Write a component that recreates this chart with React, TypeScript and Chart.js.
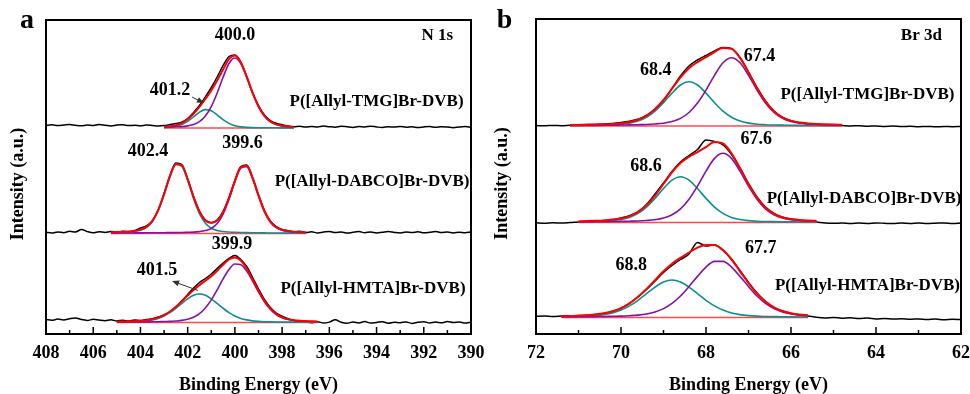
import React, { useEffect, useRef } from "react";
import { Chart, registerables } from "chart.js";

Chart.register(...registerables);

const FONT = '"Liberation Serif", "Times New Roman", serif';

// ---------------- N 1s spectra ----------------
const n1sRange = [408, 390];
const n1sStep = 0.25;
const n1sTicks = [408, 406, 404, 402, 400, 398, 396, 394, 392, 390];
const n1sOffsets = [206, 100.5, 11.5]; // stacking: TMG, DABCO, HMTA
const n1sFitStart = [403.0, 405.25, 405.0];

const n1sRawTMG = [
  2.6, 3.2, 2.4, 2.9, 3.5, 2.7, 2.2, 3.0, 2.5, 3.4, 2.8, 2.1, 2.9, 3.3, 2.4, 2.8, 2.2, 2.9, 2.5, 2.0,
  2.4, 3.4, 4.5, 5.8, 9.5, 15.5, 22.5, 31, 40.5, 51, 62.5, 71.5, 73, 66, 51.5, 35, 22.5, 13, 7.5, 4.8, 3.2, 2.0, 1.2,
  1.8, 0.9, 1.6, 1.1, 2.0, 1.3, 0.8, 1.7, 1.2, 0.6, 1.5, 1.0, 1.8, 1.1, 0.5, 1.3, 0.9, 1.6, 0.8, 1.2, 0.4, 1.1, 1.5, 0.7, 1.3, 0.9, 0.3, 1.0, 1.4, 0.8,
];
const n1sEnvTMG = [1.3, 1.8, 2.9, 4.9, 8.8, 14.2, 21, 29, 37.5, 47.5, 58.5, 68.8, 72.4, 65.6, 51.4, 35.4, 21.7, 12.2, 6.5, 3.6, 2.2, 1.5, 1.2];
const n1sLowTMG = [0.8, 1.0, 1.2, 1.4, 2.1, 3.4, 6.3, 11.9, 21.4, 35, 50.8, 64.5, 70, 64.5, 50.8, 35, 21.4, 11.9, 6.3, 3.4, 2.1, 1.4, 1.2];
const n1sHighTMG = [0.5, 0.8, 1.7, 3.5, 6.7, 11.2, 15.8, 18.4, 17.2, 13.1, 8.3, 4.6, 2.2, 1.1, 0.6, 0.4, 0.3, 0.3, 0.2, 0.2, 0.1, 0.1, 0];

const n1sRawDABCO = [
  1.2, 0.5, 1.6, 0.8, 2.2, 1.5, 4.0, 1.9, 0.7, 1.8, 1.1,
  2.0, 1.4, 2.3, 1.8, 2.9, 5.5, 7.5, 12.5, 23.5, 40, 58, 70.5, 69, 54.5, 37, 22.5, 13.5, 10.8, 13.5, 22, 36, 53, 67, 68.5, 56, 38.5, 23, 12.5, 6.8, 4.0, 2.8, 1.6, 2.2, 1.0,
  1.7, 0.6, 1.4, 2.1, 1.0, 1.6, 0.4, 1.2, 1.9, 0.8, 1.5, 0.6, 1.3, 2.0, 1.1, 0.5, 1.4, 0.9, 1.8, 0.7, 1.2, 2.0, 0.9, 1.5, 0.6, 1.3, 0.8, 1.4,
];
const n1sEnvDABCO = [1.3, 1.4, 1.7, 2.0, 2.7, 3.9, 6.6, 12.4, 23.3, 39.4, 57.4, 69.6, 68.2, 54.3, 36.4, 21.8, 13.1, 10.8, 12.9, 21.4, 35.5, 52.7, 66.3, 67.7, 55.7, 38.2, 22.5, 11.9, 6.3, 3.6, 2.4, 1.8, 1.5, 1.3];
const n1sLowDABCO = [0.4, 0.4, 0.5, 0.5, 0.6, 0.6, 0.7, 0.7, 0.8, 0.8, 0.9, 0.9, 1.0, 1.2, 1.4, 1.9, 2.9, 5.0, 9.9, 19.4, 34, 51.5, 65.3, 66.8, 54.9, 37.5, 21.9, 11.4, 5.8, 3.2, 2.0, 1.5, 1.2, 1.0];
const n1sHighDABCO = [0.9, 1.0, 1.2, 1.5, 2.1, 3.3, 5.9, 11.7, 22.5, 38.6, 56.5, 68.7, 67.2, 53.1, 35, 19.9, 10.2, 5.2, 3.0, 2.0, 1.5, 1.2, 1.0, 0.9, 0.8, 0.7, 0.6, 0.5, 0.5, 0.4, 0.4, 0.3, 0.3, 0.3];

const n1sRawHMTA = [
  3.0, 2.2, 3.4, 2.5, 3.8, 4.6, 2.9, 2.1, 3.2, 2.4, 1.8, 2.7,
  1.5, 2.3, 1.4, 2.6, 2.0, 3.1, 3.8, 5.5, 7.5, 10.5, 15.5, 21.5, 28, 34.5, 40, 44, 48.5, 54, 59.5, 64, 67, 63, 56, 45, 33.5, 23, 15, 9.5, 6.2, 3.8, 2.1, 1.2, 0.5, -0.3, 0.8,
  -0.5, 0.4, 2.8, 0.2, -0.8, 0.5, -0.4, 0.9, -0.6, 0.1, 0.8, -0.7, 0.3, -0.2, 0.6, -0.9, 0.2, 0.7, -0.5, 0.4, -0.3, 0.9, -0.1, 0.5, -0.6, 0.3,
];
const n1sEnvHMTA = [0.85, 0.9, 1.1, 1.3, 1.7, 2.2, 3.3, 4.9, 7.5, 11.0, 15.75, 21.2, 26.9, 32.5, 37.4, 41.8, 46.3, 51.8, 57.85, 63.0, 65.0, 61.9, 54.0, 43.0, 31.7, 21.6, 13.9, 8.5, 5.25, 3.4, 2.35, 1.8, 1.4, 1.25, 1.0];
const n1sLowHMTA = [0.4, 0.4, 0.5, 0.5, 0.6, 0.6, 0.7, 0.8, 1.0, 1.1, 1.5, 2.1, 3.2, 5.3, 8.9, 14.6, 22.6, 32.7, 43.6, 53.1, 58.5, 57.8, 51.4, 41.4, 30.6, 20.8, 13.3, 8.0, 4.8, 3.0, 2.0, 1.5, 1.1, 1.0, 0.8];
const n1sHighHMTA = [0.45, 0.5, 0.6, 0.8, 1.1, 1.6, 2.6, 4.1, 6.5, 9.9, 14.25, 19.1, 23.7, 27.2, 28.5, 27.2, 23.7, 19.1, 14.25, 9.9, 6.5, 4.1, 2.6, 1.6, 1.1, 0.8, 0.6, 0.5, 0.45, 0.4, 0.35, 0.3, 0.3, 0.25, 0.2];

// ---------------- Br 3d spectra ----------------
const br3dRange = [72, 62];
const br3dStep = 0.2;
const br3dTicks = [72, 70, 68, 66, 64, 62];
const br3dOffsets = [208, 111.5, 16.5];
const br3dFitStart = [71.2, 71.0, 71.4];

const br3dRawTMG = [
  0.4, 0.2, 0.6, 0.3, 0.8, 1.0, 1.4, 1.6, 2.0, 2.6,
  3.5, 4.8, 6.8, 10.5, 16.5, 25.5, 37.5, 50, 60, 66,
  70.5, 75, 78.5, 77.5, 68.5, 54, 38.5, 25, 15, 8.8,
  5.3, 3.2, 2.1, 1.5, 1.0, 0.7, 0.4, 0.1, 0.3, -0.2,
  0.0, -0.4, -0.1, -0.6, -0.3, -0.7, -0.4, -0.8, -0.5, -0.7, -0.5,
];
const br3dEnvTMG = [0.95, 1.1, 1.25, 1.45, 1.75, 2.1, 2.8, 4.0, 6.3, 10.3, 16.9, 26.1, 37.3, 48.6, 57.8, 63.9, 68.8, 74.0, 78.1, 77.1, 68.2, 53.6, 37.7, 24.2, 14.5, 8.45, 5.1, 3.4, 2.55, 2.0, 1.7, 1.45, 1.3];
const br3dLowTMG = [0.4, 0.5, 0.55, 0.6, 0.75, 0.8, 1.0, 1.1, 1.3, 1.5, 2.0, 2.8, 4.4, 7.6, 13.5, 22.9, 35.9, 50.7, 63.2, 68.3, 63.2, 50.7, 35.9, 22.9, 13.5, 7.6, 4.4, 2.8, 2.0, 1.5, 1.3, 1.1, 1.0];
const br3dHighTMG = [0.55, 0.6, 0.7, 0.85, 1.0, 1.3, 1.8, 2.9, 5.0, 8.8, 14.9, 23.3, 32.9, 41.0, 44.3, 41.0, 32.9, 23.3, 14.9, 8.8, 5.0, 2.9, 1.8, 1.3, 1.0, 0.85, 0.7, 0.6, 0.55, 0.5, 0.4, 0.35, 0.3];

const br3dRawDABCO = [
  -0.3, -0.8, -0.2, -0.6, -0.1, 0.6, 1.1, 1.5, 2.0, 2.8,
  4.5, 6.8, 10.5, 18, 28.5, 39.5, 51, 60.5, 67, 73,
  82.5, 81, 77.5, 68, 54.5, 39, 25.5, 15.5, 9.2, 5.3,
  3.2, 2.0, 1.2, 0.5, -0.4, -0.8, -0.5, -1.0, -0.6, -0.9,
  -0.4, -0.8, -1.1, -0.6, -0.9, -0.5, -1.0, -0.7, -0.4, -0.9, -0.6,
];
const br3dEnvDABCO = [1.3, 1.5, 1.75, 2.1, 2.9, 4.1, 6.4, 10.6, 17.4, 26.9, 38.5, 50.2, 59.5, 65.7, 70.4, 75.4, 80.5, 79.0, 69.2, 54.3, 38.3, 24.6, 14.7, 8.7, 5.2, 3.4, 2.55, 2.0, 1.7];
const br3dLowDABCO = [0.55, 0.6, 0.75, 0.8, 1.0, 1.1, 1.3, 1.5, 2.0, 2.8, 4.5, 7.8, 13.7, 23.3, 36.4, 51.3, 64.1, 69.2, 64.1, 51.3, 36.4, 23.3, 13.7, 7.8, 4.5, 2.8, 2.0, 1.5, 1.3];
const br3dHighDABCO = [0.73, 0.87, 1.0, 1.3, 1.9, 3.0, 5.1, 9.1, 15.4, 24.1, 34.0, 42.4, 45.8, 42.4, 34.0, 24.1, 15.4, 9.1, 5.1, 3.0, 1.9, 1.3, 1.0, 0.87, 0.73, 0.64, 0.55, 0.5, 0.4];

const br3dRawHMTA = [
  1.2, 1.6, 1.0, 1.4, 1.7, 1.9, 2.3, 2.9, 4.0, 6.0,
  9.2, 14, 20.5, 28, 36.5, 45, 52, 58, 63.5, 75,
  71.5, 72.5, 67, 58.5, 47, 35, 24.5, 16, 10, 6.2,
  4.0, 2.6, 1.6, 0.2, -0.4, 0.1, -0.8, -0.3, -1.1, -0.6,
  -1.4, -0.9, -1.6, -1.2, -1.8, -1.4, -2.0, -1.6, -2.2, -1.8, -2.1,
];
const br3dEnvHMTA = [1.3, 1.5, 1.8, 2.3, 3.0, 4.2, 6.2, 9.4, 14.2, 20.7, 28.6, 37.4, 46.2, 53.8, 59.6, 65.0, 69.8, 72.6, 72.4, 67.4, 58.0, 46.2, 34.4, 23.9, 15.9, 10.2, 6.5, 4.3, 3.0, 2.3];
const br3dLowHMTA = [0.55, 0.6, 0.7, 0.8, 0.9, 1.0, 1.2, 1.4, 1.8, 2.4, 3.5, 5.5, 8.9, 14.1, 21.5, 30.9, 41.1, 50.4, 56.1, 56.1, 50.4, 41.1, 30.9, 21.5, 14.1, 8.9, 5.5, 3.5, 2.4, 1.8];
const br3dHighHMTA = [0.71, 0.86, 1.05, 1.35, 1.9, 2.9, 4.6, 7.4, 11.6, 17.2, 23.8, 30.4, 35.5, 37.5, 35.5, 30.4, 23.8, 17.2, 11.6, 7.4, 4.6, 2.9, 1.9, 1.35, 1.05, 0.86, 0.71, 0.64, 0.56, 0.49];

// ---------------- styling ----------------
const COLORS = {
  raw: "#000000",
  envelope: "#ff0000",
  baseline: "#ff4a4a",
  low: "#8412a6",
  high: "#0d8f8f",
};

type Note = { text: string; x: number; y: number; size: number; align?: CanvasTextAlign };
type Arrow = { from: [number, number]; to: [number, number] };
type PanelDecor = {
  letter: string;
  letterPos: [number, number];
  yTitleX: number;
  ticks: number[];
  notes: Note[];
  arrows: Arrow[];
};

const n1sDecor: PanelDecor = {
  letter: "a",
  letterPos: [27, 28],
  yTitleX: 18,
  ticks: n1sTicks,
  notes: [
    { text: "N 1s", x: 390.76, y: 298, size: 17, align: "right" },
    { text: "400.0", x: 400.0, y: 299, size: 18 },
    { text: "401.2", x: 402.75, y: 244, size: 18 },
    { text: "P([Allyl-TMG]Br-DVB)", x: 394.0, y: 232.5, size: 17 },
    { text: "402.4", x: 403.68, y: 183, size: 18 },
    { text: "399.6", x: 399.68, y: 190.5, size: 18 },
    { text: "P([Allyl-DABCO]Br-DVB)", x: 394.19, y: 152.5, size: 17 },
    { text: "399.9", x: 400.12, y: 89.5, size: 18 },
    { text: "401.5", x: 403.3, y: 63.5, size: 18 },
    { text: "P([Allyl-HMTA]Br-DVB)", x: 394.15, y: 45.5, size: 17 },
  ],
  arrows: [
    { from: [401.82, 237], to: [401.31, 231] },
    { from: [401.56, 43.5], to: [402.66, 53] },
  ],
};

const br3dDecor: PanelDecor = {
  letter: "b",
  letterPos: [19.5, 28],
  yTitleX: 17,
  ticks: br3dTicks,
  notes: [
    { text: "Br 3d", x: 62.45, y: 298, size: 17, align: "right" },
    { text: "67.4", x: 66.74, y: 277.3, size: 18 },
    { text: "68.4", x: 69.18, y: 263.5, size: 18 },
    { text: "P([Allyl-TMG]Br-DVB)", x: 64.2, y: 239, size: 17 },
    { text: "67.6", x: 66.82, y: 195, size: 18 },
    { text: "68.6", x: 69.41, y: 168, size: 18 },
    { text: "P([Allyl-DABCO]Br-DVB)", x: 64.28, y: 135, size: 17 },
    { text: "67.7", x: 66.71, y: 85.7, size: 18 },
    { text: "68.8", x: 69.76, y: 68.5, size: 18 },
    { text: "P([Allyl-HMTA]Br-DVB)", x: 64.2, y: 48.2, size: 17 },
  ],
  arrows: [],
};

// ---------------- helpers ----------------
const toPoints = (start: number, step: number, values: number[], offset: number) =>
  values.map((v, i) => ({ x: +(start - i * step).toFixed(3), y: v + offset }));

function spectrumDatasets(
  axisStart: number,
  step: number,
  fitStart: number,
  offset: number,
  raw: number[],
  env: number[],
  low: number[],
  high: number[]
) {
  const fitEnd = +(fitStart - (env.length - 1) * step).toFixed(3);
  const smooth = { cubicInterpolationMode: "monotone" as const, pointRadius: 0, fill: false };
  return [
    { data: toPoints(axisStart, step, raw, offset), borderColor: COLORS.raw, borderWidth: 1.5, order: 4, ...smooth },
    {
      data: [
        { x: fitStart, y: offset },
        { x: fitEnd, y: offset },
      ],
      borderColor: COLORS.baseline,
      borderWidth: 1.5,
      order: 3,
      pointRadius: 0,
      fill: false,
    },
    { data: toPoints(fitStart, step, high, offset), borderColor: COLORS.high, borderWidth: 1.6, order: 2, ...smooth },
    { data: toPoints(fitStart, step, low, offset), borderColor: COLORS.low, borderWidth: 1.6, order: 1, ...smooth },
    { data: toPoints(fitStart, step, env, offset), borderColor: COLORS.envelope, borderWidth: 2, order: 0, ...smooth },
  ];
}

function drawArrow(ctx: CanvasRenderingContext2D, x1: number, y1: number, x2: number, y2: number) {
  const ang = Math.atan2(y2 - y1, x2 - x1);
  const head = 7;
  ctx.save();
  ctx.strokeStyle = "#333";
  ctx.fillStyle = "#333";
  ctx.lineWidth = 1;
  ctx.beginPath();
  ctx.moveTo(x1, y1);
  ctx.lineTo(x2 - Math.cos(ang) * head * 0.8, y2 - Math.sin(ang) * head * 0.8);
  ctx.stroke();
  ctx.beginPath();
  ctx.moveTo(x2, y2);
  ctx.lineTo(x2 - head * Math.cos(ang) + 3 * Math.sin(ang), y2 - head * Math.sin(ang) - 3 * Math.cos(ang));
  ctx.lineTo(x2 - head * Math.cos(ang) - 3 * Math.sin(ang), y2 - head * Math.sin(ang) + 3 * Math.cos(ang));
  ctx.closePath();
  ctx.fill();
  ctx.restore();
}

const decorPlugin = {
  id: "decor",
  afterDraw(chart: any) {
    const d: PanelDecor = chart.options.plugins.decor;
    const { ctx, chartArea } = chart;
    const { left, right, top, bottom } = chartArea;
    const xs = chart.scales.x;
    const ys = chart.scales.y;
    ctx.save();

    // frame
    ctx.strokeStyle = "#000";
    ctx.lineWidth = 2;
    ctx.strokeRect(left, top, right - left, bottom - top);

    // inward ticks on the bottom axis: labelled majors and unlabelled minors
    const lo = Math.min(xs.min, xs.max);
    const hi = Math.max(xs.min, xs.max);
    ctx.lineWidth = 1.5;
    for (let v = lo; v <= hi; v += 1) {
      const px = xs.getPixelForValue(v);
      const major = d.ticks.includes(v);
      ctx.beginPath();
      ctx.moveTo(px, bottom);
      ctx.lineTo(px, bottom - (major ? 7 : 4));
      ctx.stroke();
    }

    ctx.fillStyle = "#000";
    ctx.textBaseline = "middle";
    ctx.textAlign = "center";
    ctx.font = `bold 18px ${FONT}`;
    d.ticks.forEach((t) => ctx.fillText(String(t), xs.getPixelForValue(t), bottom + 19));

    ctx.font = `bold 18px ${FONT}`;
    ctx.fillText("Binding Energy (eV)", (left + right) / 2, bottom + 51);

    ctx.save();
    ctx.translate(d.yTitleX, (top + bottom) / 2 + 7);
    ctx.rotate(-Math.PI / 2);
    ctx.fillText("Intensity (a.u.)", 0, 0);
    ctx.restore();

    // panel letter
    ctx.textBaseline = "alphabetic";
    ctx.font = `bold 28px ${FONT}`;
    ctx.fillText(d.letter, d.letterPos[0], d.letterPos[1]);

    // peak positions and sample names
    ctx.textBaseline = "middle";
    d.notes.forEach((n) => {
      ctx.font = `bold ${n.size}px ${FONT}`;
      ctx.textAlign = n.align || "center";
      ctx.fillText(n.text, xs.getPixelForValue(n.x), ys.getPixelForValue(n.y));
    });

    d.arrows.forEach((a) =>
      drawArrow(
        ctx,
        xs.getPixelForValue(a.from[0]),
        ys.getPixelForValue(a.from[1]),
        xs.getPixelForValue(a.to[0]),
        ys.getPixelForValue(a.to[1])
      )
    );
    ctx.restore();
  },
};

type PanelProps = {
  left: number;
  range: number[];
  yMax: number;
  padding: { left: number; right: number; top: number; bottom: number };
  datasets: any[];
  decor: PanelDecor;
};

function Panel({ left, range, yMax, padding, datasets, decor }: PanelProps) {
  const ref = useRef<HTMLCanvasElement>(null);
  useEffect(() => {
    const chart = new Chart(ref.current as HTMLCanvasElement, {
      type: "line",
      data: { datasets },
      options: {
        animation: false,
        responsive: false,
        devicePixelRatio: 1,
        layout: { padding },
        parsing: true,
        plugins: {
          legend: { display: false },
          tooltip: { enabled: false },
          decor: decor,
        } as any,
        scales: {
          x: { type: "linear", reverse: true, min: range[1], max: range[0], display: false },
          y: { type: "linear", min: 0, max: yMax, display: false },
        },
      },
      plugins: [decorPlugin],
    });
    return () => chart.destroy();
  }, []);
  return (
    <canvas
      ref={ref}
      width={485}
      height={394}
      style={{ position: "absolute", left, top: 0, width: 485, height: 394 }}
    />
  );
}

export default function App() {
  const n1sSets = [
    ...spectrumDatasets(n1sRange[0], n1sStep, n1sFitStart[0], n1sOffsets[0], n1sRawTMG, n1sEnvTMG, n1sLowTMG, n1sHighTMG),
    ...spectrumDatasets(n1sRange[0], n1sStep, n1sFitStart[1], n1sOffsets[1], n1sRawDABCO, n1sEnvDABCO, n1sLowDABCO, n1sHighDABCO),
    ...spectrumDatasets(n1sRange[0], n1sStep, n1sFitStart[2], n1sOffsets[2], n1sRawHMTA, n1sEnvHMTA, n1sLowHMTA, n1sHighHMTA),
  ];
  const br3dSets = [
    ...spectrumDatasets(br3dRange[0], br3dStep, br3dFitStart[0], br3dOffsets[0], br3dRawTMG, br3dEnvTMG, br3dLowTMG, br3dHighTMG),
    ...spectrumDatasets(br3dRange[0], br3dStep, br3dFitStart[1], br3dOffsets[1], br3dRawDABCO, br3dEnvDABCO, br3dLowDABCO, br3dHighDABCO),
    ...spectrumDatasets(br3dRange[0], br3dStep, br3dFitStart[2], br3dOffsets[2], br3dRawHMTA, br3dEnvHMTA, br3dLowHMTA, br3dHighHMTA),
  ];
  return (
    <div style={{ position: "fixed", left: 0, top: 0, width: 970, height: 394, background: "#fff" }}>
      <Panel
        left={0}
        range={n1sRange}
        yMax={314}
        padding={{ left: 46, right: 14, top: 20, bottom: 60 }}
        datasets={n1sSets}
        decor={n1sDecor}
      />
      <Panel
        left={485}
        range={br3dRange}
        yMax={315}
        padding={{ left: 51, right: 9, top: 19, bottom: 60 }}
        datasets={br3dSets}
        decor={br3dDecor}
      />
    </div>
  );
}
